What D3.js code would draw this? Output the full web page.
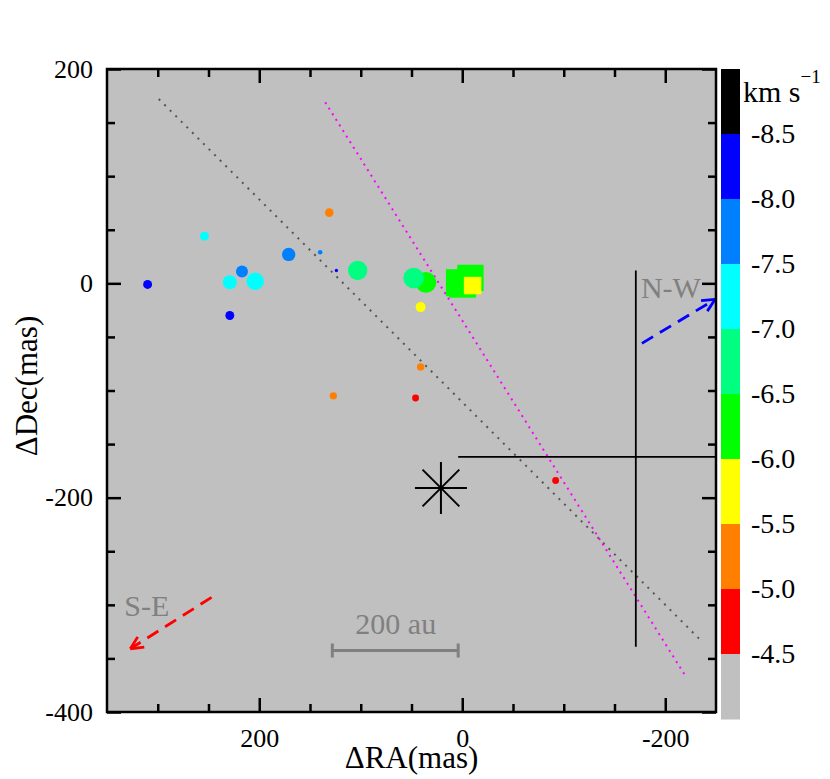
<!DOCTYPE html>
<meta charset="utf-8">
<style>
  body { margin: 0; background: #fff; }
  text { font-family: "Liberation Serif", "Times New Roman", serif; }
  .axis path { display: none; }
  .axis line { stroke: #000; stroke-width: 2.5px; }
  .axis text { font-size: 26px; fill: #000; }
  .cbar text { font-size: 28px; fill: #000; }
  .note { font-size: 30px; fill: #808080; }
</style>
<body>
<script src="https://d3js.org/d3.v7.min.js"></script>
<script>

var width = 830,
    height = 779;

// maser spots: offsets (mas), LSR velocity (km/s), peak flux
var spotRA   = [310, 254, 171, 140, 124, 217, 229, 204, 229, 103, 131, 35.8, 47.9, 41, 41, 46, 127, -92];
var spotDec  = [-1, 44, 27, 29, 12, 11, 1, 2, -30, 12, 66, 0.9, 5, -22.2, -78, -107, -105, -184];
var spotVel  = [-8.2, -7.2, -7.7, -7.7, -8.2, -7.7, -7.2, -7.2, -8.2, -6.7, -5.2, -6.2, -6.7, -5.7, -5.2, -4.7, -5.2, -4.7];
var spotFlux = [2.0, 2.0, 4.5, 0.53, 0.29, 3.6, 4.9, 7.6, 2.0, 9.4, 1.85, 11, 10.6, 2.5, 1.37, 1.2, 1.37, 1.2];

// bright features drawn as squares
var sqRA   = [2.8, -0.2, -8.1, -10.2];
var sqDec  = [0.6, -0.8, 5.1, -2.1];
var sqVel  = [-6.2, -6.2, -6.2, -5.7];
var sqFlux = [18.2, 18.2, 17.3, 7.66];

// colour bar
var velBreaks = [-8.5, -8.0, -7.5, -7.0, -6.5, -6.0, -5.5, -5.0, -4.5];
var velColors = ["#000000", "#0000ff", "#0080ff", "#00ffff", "#00ff80", "#00ff00", "#ffff00", "#ff8000", "#ff0000", "#c0c0c0"];

// axis ticks
var majorRA  = [200, 0, -200];
var minorRA  = [300, 250, 150, 100, 50, -50, -100, -150];
var majorDec = [200, 0, -200, -400];
var minorDec = [150, 100, 50, -50, -100, -150, -250, -300, -350];

// overlays (mas)
var grayLine    = [[299, 172], [-237, -335]];
var magentaLine = [[135, 169], [-221, -368]];
var crossV      = [[-171, 12], [-171, -339]];
var crossH      = [[4, -162], [-250, -162]];
var starPos     = [21, -191];
var arrowSE     = [[247, -293], [327, -341]];
var arrowNW     = [[-177, -56], [-249, -15]];
var scaleBar    = [128, 4, -342.5];

var svg = d3.select("body").append("svg")
  .attr("width", width)
  .attr("height", height);

var x = d3.scaleLinear().domain([350, -250]).range([107, 716]);
var y = d3.scaleLinear().domain([-400, 200]).range([712, 69]);
var color = d3.scaleThreshold().domain(velBreaks).range(velColors);
var rad = d3.scaleSqrt().domain([0, 10]).range([0, 10]);
var line = d3.line().x(function(d){ return x(d[0]); }).y(function(d){ return y(d[1]); });
var fmt = function(d){ return String(d); };

// background
svg.append("rect")
  .attr("x", x(350)).attr("y", y(200))
  .attr("width", x(-250) - x(350)).attr("height", y(-400) - y(200))
  .attr("fill", "#c0c0c0");

// dotted lines
svg.append("path").attr("d", line(grayLine))
  .attr("stroke", "#555").attr("stroke-width", 2).attr("fill", "none")
  .attr("stroke-dasharray", "2,5.85");
svg.append("path").attr("d", line(magentaLine))
  .attr("stroke", "#ff00ff").attr("stroke-width", 2).attr("fill", "none")
  .attr("stroke-dasharray", "2,4.6");

// cross
[crossV, crossH].forEach(function(c){
  svg.append("path").attr("d", line(c))
    .attr("stroke", "#000").attr("stroke-width", 1.8).attr("fill", "none");
});

// star
var star = svg.append("g").attr("transform", "translate(" + x(starPos[0]) + "," + y(starPos[1]) + ")");
d3.range(4).forEach(function(i){
  var a = i * Math.PI / 4, r = 26;
  star.append("line")
    .attr("x1", -r * Math.cos(a)).attr("y1", -r * Math.sin(a))
    .attr("x2", r * Math.cos(a)).attr("y2", r * Math.sin(a))
    .attr("stroke", "#000").attr("stroke-width", 2);
});

// spots
var spots = spotRA.map(function(d, i){
  return {ra: d, dec: spotDec[i], v: spotVel[i], f: spotFlux[i]};
});
svg.selectAll("circle.spot")
  .data(spots)
  .enter().append("circle")
    .attr("class", "spot")
    .attr("cx", function(d){ return x(d.ra); })
    .attr("cy", function(d){ return y(d.dec); })
    .attr("r", function(d){ return rad(d.f); })
    .attr("fill", function(d){ return color(d.v); });

var squares = sqRA.map(function(d, i){
  return {ra: d, dec: sqDec[i], v: sqVel[i], f: sqFlux[i]};
});
svg.selectAll("rect.sq")
  .data(squares)
  .enter().append("rect")
    .attr("class", "sq")
    .attr("x", function(d){ return x(d.ra) - rad(d.f); })
    .attr("y", function(d){ return y(d.dec) - rad(d.f); })
    .attr("width", function(d){ return 2 * rad(d.f); })
    .attr("height", function(d){ return 2 * rad(d.f); })
    .attr("fill", function(d){ return color(d.v); });

// arrows
function arrow(pts, col) {
  var p0 = [x(pts[0][0]), y(pts[0][1])], p1 = [x(pts[1][0]), y(pts[1][1])];
  svg.append("line")
    .attr("x1", p0[0]).attr("y1", p0[1]).attr("x2", p1[0]).attr("y2", p1[1])
    .attr("stroke", col).attr("stroke-width", 2.8).attr("stroke-dasharray", "13,8");
  var ang = Math.atan2(p0[1] - p1[1], p0[0] - p1[0]);
  [-0.45, 0.45].forEach(function(da){
    svg.append("line")
      .attr("x1", p1[0]).attr("y1", p1[1])
      .attr("x2", p1[0] + 14 * Math.cos(ang + da)).attr("y2", p1[1] + 14 * Math.sin(ang + da))
      .attr("stroke", col).attr("stroke-width", 2.8);
  });
}
arrow(arrowSE, "#ff0000");
arrow(arrowNW, "#0000ff");

// annotations
svg.append("text").attr("class", "note").attr("x", x(333)).attr("y", y(-310)).text("S-E");
svg.append("text").attr("class", "note").attr("x", x(-176)).attr("y", y(-14)).text("N-W");
svg.append("text").attr("class", "note").attr("x", x(65.5)).attr("y", y(-327))
  .attr("text-anchor", "middle").text("200 au");
svg.append("path")
  .attr("d", "M" + x(scaleBar[0]) + "," + (y(scaleBar[2]) - 7) + "v14" +
             "M" + x(scaleBar[0]) + "," + y(scaleBar[2]) + "H" + x(scaleBar[1]) +
             "M" + x(scaleBar[1]) + "," + (y(scaleBar[2]) - 7) + "v14")
  .attr("stroke", "#808080").attr("stroke-width", 3).attr("fill", "none");

// axes: inward ticks on all four sides
function ticks(axis, vals, len, labels) {
  return axis.tickValues(vals).tickSizeInner(-len).tickSizeOuter(0)
    .tickFormat(labels ? fmt : "");
}
svg.append("g").attr("class", "axis").attr("transform", "translate(0," + y(-400) + ")")
  .call(ticks(d3.axisBottom(x), majorRA, 14, true).tickPadding(16.5));
svg.append("g").attr("class", "axis").attr("transform", "translate(0," + y(-400) + ")")
  .call(ticks(d3.axisBottom(x), minorRA, 8, false));
svg.append("g").attr("class", "axis").attr("transform", "translate(0," + y(200) + ")")
  .call(ticks(d3.axisTop(x), majorRA, 14, false));
svg.append("g").attr("class", "axis").attr("transform", "translate(0," + y(200) + ")")
  .call(ticks(d3.axisTop(x), minorRA, 8, false));
svg.append("g").attr("class", "axis").attr("transform", "translate(" + x(350) + ",0)")
  .call(ticks(d3.axisLeft(y), majorDec, 14, true).tickPadding(14));
svg.append("g").attr("class", "axis").attr("transform", "translate(" + x(350) + ",0)")
  .call(ticks(d3.axisLeft(y), minorDec, 8, false));
svg.append("g").attr("class", "axis").attr("transform", "translate(" + x(-250) + ",0)")
  .call(ticks(d3.axisRight(y), majorDec, 14, false));
svg.append("g").attr("class", "axis").attr("transform", "translate(" + x(-250) + ",0)")
  .call(ticks(d3.axisRight(y), minorDec, 8, false));

// frame
svg.append("rect")
  .attr("x", x(350)).attr("y", y(200))
  .attr("width", x(-250) - x(350)).attr("height", y(-400) - y(200))
  .attr("fill", "none").attr("stroke", "#000").attr("stroke-width", 2.5);

// axis titles
svg.append("text")
  .attr("x", (x(350) + x(-250)) / 2).attr("y", 768)
  .attr("text-anchor", "middle").attr("font-size", 31)
  .text("\u0394RA(mas)");
svg.append("text")
  .attr("transform", "translate(37,386) rotate(-90)")
  .attr("text-anchor", "middle").attr("font-size", 31)
  .text("\u0394Dec(mas)");

// colour bar
var cy = d3.scaleLinear().domain([-9.0, -4.0]).range([69, 719]);
var bins = velColors.map(function(c, i){
  return {c: c, lo: i === 0 ? -9.0 : velBreaks[i - 1], hi: i === velBreaks.length ? -4.0 : velBreaks[i]};
});
svg.selectAll("rect.bin")
  .data(bins)
  .enter().append("rect")
    .attr("class", "bin")
    .attr("x", 721).attr("width", 19)
    .attr("y", function(d){ return cy(d.lo); })
    .attr("height", function(d){ return cy(d.hi) - cy(d.lo) + 0.5; })
    .attr("fill", function(d){ return d.c; });

var cax = svg.append("g").attr("class", "cbar").attr("transform", "translate(740,0)")
  .call(d3.axisRight(cy).tickValues(velBreaks).tickSize(0).tickPadding(11)
    .tickFormat(function(d){ return d.toFixed(1); }));
cax.select(".domain").remove();

var unit = svg.append("text").attr("x", 743).attr("y", 102).attr("font-size", 30);
unit.append("tspan").text("km s");
unit.append("tspan").attr("font-size", 19).attr("dy", -19).text("\u22121");

</script>
